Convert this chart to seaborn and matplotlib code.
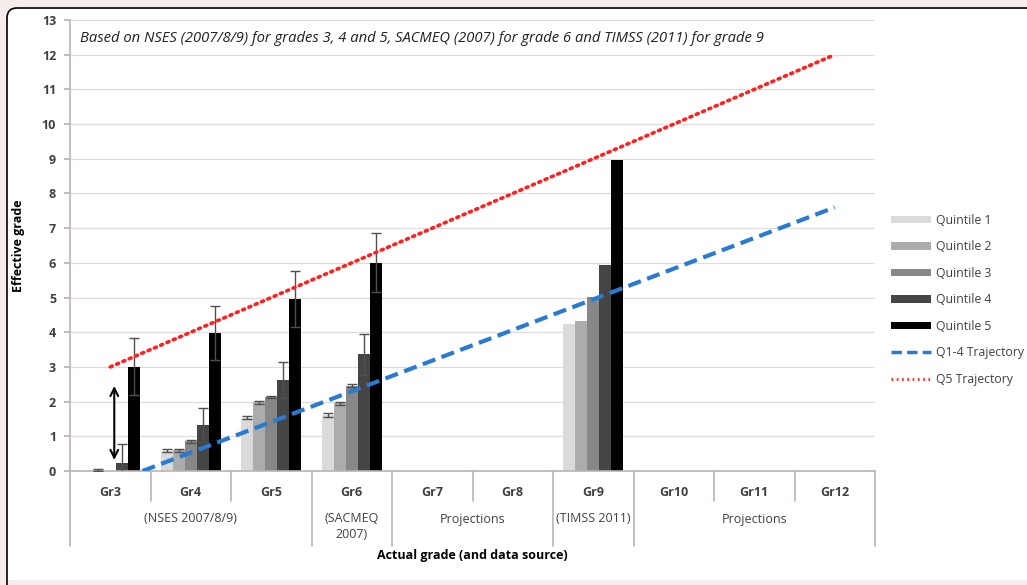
import numpy as np
import pandas as pd
import matplotlib
matplotlib.use("Agg")
import matplotlib.pyplot as plt
import seaborn as sns
from matplotlib.patches import FancyBboxPatch, Patch, Rectangle
from matplotlib.lines import Line2D
import matplotlib.transforms as mtransforms

# ---------------- data ----------------
grades = ["Gr3", "Gr4", "Gr5", "Gr6", "Gr7", "Gr8", "Gr9", "Gr10", "Gr11", "Gr12"]
quintiles = ["Quintile 1", "Quintile 2", "Quintile 3", "Quintile 4", "Quintile 5"]
data_grades = ["Gr3", "Gr4", "Gr5", "Gr6", "Gr9"]
q1 = [0.00, 0.58, 1.54, 1.62, 4.25]
q2 = [0.03, 0.60, 1.98, 1.95, 4.32]
q3 = [0.00, 0.86, 2.13, 2.46, 5.02]
q4 = [0.22, 1.33, 2.62, 3.36, 5.93]
q5 = [3.00, 3.98, 4.96, 6.00, 8.97]
err_q1 = [0.00, 0.04, 0.04, 0.05, 0.0]
err_q2 = [0.02, 0.04, 0.04, 0.04, 0.0]
err_q3 = [0.00, 0.04, 0.04, 0.05, 0.0]
err_q4 = [0.55, 0.50, 0.52, 0.58, 0.0]
err_q5 = [0.82, 0.78, 0.80, 0.85, 0.0]

# trajectories (actual grade -> effective grade)
q5_traj_grade = [3.0, 12.0]
q5_traj_value = [3.0, 12.0]
q14_traj_grade = [3.4, 12.0]
q14_traj_value = [0.0, 7.6]

# arrow showing gap at grade 3
gap_arrow_grade = 3.05
gap_arrow_range = [0.32, 2.45]

source_labels = ["(NSES 2007/8/9)", "(SACMEQ\n2007)", "Projections", "(TIMSS 2011)", "Projections"]
source_spans = [("Gr3", "Gr5"), ("Gr6", "Gr6"), ("Gr7", "Gr8"), ("Gr9", "Gr9"), ("Gr10", "Gr12")]

title_text = ("Based on NSES (2007/8/9) for grades 3, 4 and 5, SACMEQ (2007) for grade 6 "
              "and TIMSS (2011) for grade 9")

# ---------------- style ----------------
sns.set_theme(style="white")
plt.rcParams["font.family"] = ["Open Sans", "DejaVu Sans"]
txt_col = "#404040"
colors = ["#dadada", "#acacac", "#878787", "#454545", "#000000"]

series = [q1, q2, q3, q4, q5]
errs = [err_q1, err_q2, err_q3, err_q4, err_q5]
rows = []
for qi, qn in enumerate(quintiles):
    for gi, g in enumerate(data_grades):
        rows.append({"grade": g, "quintile": qn, "value": series[qi][gi], "err": errs[qi][gi]})
df = pd.DataFrame(rows)

W, H, DPI = 1027, 585, 100
bg = "#f5ecec"
fig = plt.figure(figsize=(W / DPI, H / DPI), dpi=DPI)
fig.patch.set_facecolor(bg)
ident = mtransforms.IdentityTransform()
panel = FancyBboxPatch((7, -20), W + 20, H - 8 + 20, boxstyle="round,pad=0,rounding_size=10",
                       transform=ident, facecolor="white",
                       edgecolor="black", linewidth=1.2, zorder=-5)
fig.patches.append(panel)
fig.patches.append(Rectangle((8, 0), W, 5, transform=ident, facecolor=bg,
                             edgecolor="none", zorder=-4))

ax = fig.add_axes([70 / W, 1 - 471 / H, 805 / W, 451 / H])
ax.set_facecolor("none")
ax.set_zorder(1)

sns.barplot(data=df, x="grade", y="value", hue="quintile", order=grades, hue_order=quintiles,
            palette=colors, width=0.75, errorbar=None, saturation=1, legend=False,
            linewidth=0, ax=ax, zorder=2)

# error bars for each bar
err_lookup = {(r.grade, r.quintile): r.err for r in df.itertuples()}
for qn, cont in zip(quintiles, ax.containers):
    for p in cont.patches:
        xc = p.get_x() + p.get_width() / 2
        g = grades[int(round(xc))]
        e = err_lookup.get((g, qn), 0)
        if e > 0:
            ax.errorbar(xc, p.get_height(), yerr=e, fmt="none", ecolor="#505050",
                        elinewidth=1.0, capsize=3.5, capthick=1.0, zorder=3)

# trajectories
gpos = lambda g: np.asarray(g) - 3
ax.plot(gpos(q14_traj_grade), q14_traj_value, color="#2a7bd0", lw=3,
        dashes=(3.2, 1.6), zorder=4, solid_capstyle="butt")
ax.plot(gpos(q5_traj_grade), q5_traj_value, color="#ff2020", lw=2.6,
        dashes=(0.6, 1.3), zorder=4, dash_capstyle="round")

ax.annotate("", xy=(gpos(gap_arrow_grade), gap_arrow_range[1]),
            xytext=(gpos(gap_arrow_grade), gap_arrow_range[0]),
            arrowprops=dict(arrowstyle="<->", color="black", lw=1.5,
                            mutation_scale=14, shrinkA=0, shrinkB=0), zorder=5)

# axes
ax.set_xlim(-0.5, len(grades) - 0.5)
ax.set_ylim(0, 13)
ax.set_yticks(range(0, 14))
ax.set_yticklabels([str(i) for i in range(0, 14)], fontsize=9, color=txt_col, fontweight="bold")
ax.tick_params(axis="y", direction="out", length=4, color="#bcb2b2", pad=6, left=True)
ax.set_xticks([])
ax.set_xlabel("")
ax.set_ylabel("Effective grade", fontsize=9, fontweight="bold", color="black", labelpad=12)
ax.yaxis.grid(True, color="#dddddd", lw=0.9)
ax.set_axisbelow(True)
for s in ["top", "right"]:
    ax.spines[s].set_visible(False)
for s in ["left", "bottom"]:
    ax.spines[s].set_color("#bcb2b2")
    ax.spines[s].set_linewidth(1.2)

# multi-level category axis
trans = mtransforms.blended_transform_factory(ax.transData, ax.transAxes)
px = 1 / 451
for i, g in enumerate(grades):
    ax.text(i, -21 * px, g, transform=trans, ha="center", va="center",
            fontsize=9, fontweight="bold", color=txt_col)
long_bounds = set()
for (a, b), lab in zip(source_spans, source_labels):
    ia, ib = grades.index(a), grades.index(b)
    long_bounds.update([ia - 0.5, ib + 0.5])
    y = -48 * px if "\n" not in lab else -56 * px
    ax.text((ia + ib) / 2, y, lab, transform=trans, ha="center", va="center",
            fontsize=9, color=txt_col, linespacing=1.3)
for i in range(len(grades) + 1):
    xb = i - 0.5
    yb = -75 * px if xb in long_bounds else -30 * px
    ax.plot([xb, xb], [0, yb], transform=trans, color="#bcb2b2", lw=1.2, clip_on=False)

ax.text(0.5, -84 * px, "Actual grade (and data source)", transform=ax.transAxes,
        ha="center", va="center", fontsize=9, fontweight="bold", color="black")

ax.text(0.013, 0.958, title_text, transform=ax.transAxes, ha="left", va="center",
        fontsize=10.6, fontstyle="italic", color="#202020")

# legend
handles = [Patch(facecolor=c, edgecolor="none") for c in colors]
handles += [Line2D([], [], color="#2a7bd0", lw=2.5, dashes=(3, 1.5)),
            Line2D([], [], color="#ff2020", lw=2, dashes=(0.6, 1.3))]
labels = quintiles + ["Q1-4 Trajectory", "Q5 Trajectory"]
fig.legend(handles, labels, loc="upper left", bbox_to_anchor=(880 / W, 1 - 203 / H),
           frameon=False, fontsize=8.8, handlelength=3.3, handleheight=0.55,
           labelspacing=1.1, handletextpad=0.4, labelcolor=txt_col)

fig.savefig("out.png", dpi=DPI, facecolor=fig.get_facecolor())
